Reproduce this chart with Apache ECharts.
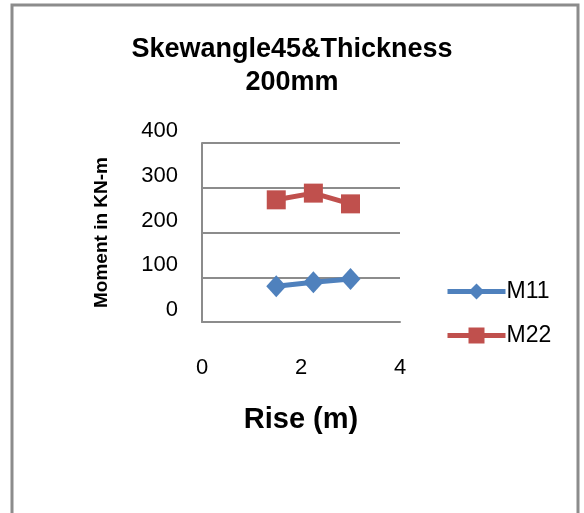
<!DOCTYPE html>
<html>
<head>
<meta charset="utf-8">
<script src="https://cdn.jsdelivr.net/npm/echarts@6/dist/echarts.min.js"></script>
<style>
html, body { margin: 0; padding: 0; background: #fff; }
#main { width: 584px; height: 513px; }
</style>
</head>
<body>
<div id="main"></div>
<script>
// data
var rise = [1.5, 2.25, 3.0];
var m11 = [80, 89, 96];
var m22 = [273, 288, 264];

function pairs(xs, ys) {
  return xs.map(function (x, i) { return [x, ys[i]]; });
}

var myChart = echarts.init(document.getElementById('main'));
var font = 'Liberation Sans, Arial, sans-serif';

var option = {
  animation: false,
  backgroundColor: '#fff',
  title: {
    text: 'Skewangle45&Thickness\n200mm',
    left: 'center',
    top: 33,
    padding: 0,
    textStyle: { fontFamily: font, fontSize: 27, fontWeight: 'bold', color: '#000', lineHeight: 33 }
  },
  graphic: [{
    type: 'rect',
    shape: { x: 12, y: 5, width: 566, height: 530 },
    style: { fill: 'none', stroke: '#8c8c8c', lineWidth: 3 },
    silent: true
  }],
  legend: {
    orient: 'vertical',
    left: 445,
    top: 280,
    padding: 0,
    itemWidth: 58,
    itemHeight: 20,
    itemGap: 21,
    lineStyle: { width: 5 },
    textStyle: { fontFamily: font, fontSize: 23, color: '#000', padding: [0, 0, 0, -4] },
    data: ['M11', 'M22']
  },
  grid: { left: 202, top: 143, width: 198, height: 179 },
  xAxis: {
    type: 'value',
    min: 0,
    max: 4,
    interval: 2,
    name: 'Rise (m)',
    nameLocation: 'middle',
    nameGap: 83,
    nameTextStyle: { fontFamily: font, fontSize: 29, fontWeight: 'bold', color: '#000' },
    axisLine: { show: true, lineStyle: { color: '#8c8c8c', width: 2 } },
    axisTick: { show: false },
    splitLine: { show: false },
    axisLabel: { margin: 35, fontFamily: font, fontSize: 22, color: '#000' }
  },
  yAxis: {
    type: 'value',
    min: 0,
    max: 400,
    interval: 100,
    name: 'Moment in KN-m',
    nameLocation: 'middle',
    nameGap: 91,
    nameRotate: 90,
    nameTextStyle: { fontFamily: font, fontSize: 19, fontWeight: 'bold', color: '#000' },
    axisLine: { show: true, lineStyle: { color: '#8c8c8c', width: 2 } },
    axisTick: { show: false },
    splitLine: { show: true, lineStyle: { color: '#8c8c8c', width: 2 } },
    axisLabel: { margin: 24, fontFamily: font, fontSize: 22, color: '#000', verticalAlign: 'bottom', lineHeight: 24 }
  },
  series: [
    {
      name: 'M11',
      type: 'line',
      data: pairs(rise, m11),
      symbol: 'diamond',
      symbolSize: [20, 22],
      color: '#4F81BD',
      lineStyle: { width: 5, color: '#4F81BD' }
    },
    {
      name: 'M22',
      type: 'line',
      data: pairs(rise, m22),
      symbol: 'rect',
      symbolSize: 19,
      color: '#C0504D',
      lineStyle: { width: 5, color: '#C0504D' }
    }
  ]
};

myChart.setOption(option);
</script>
</body>
</html>
